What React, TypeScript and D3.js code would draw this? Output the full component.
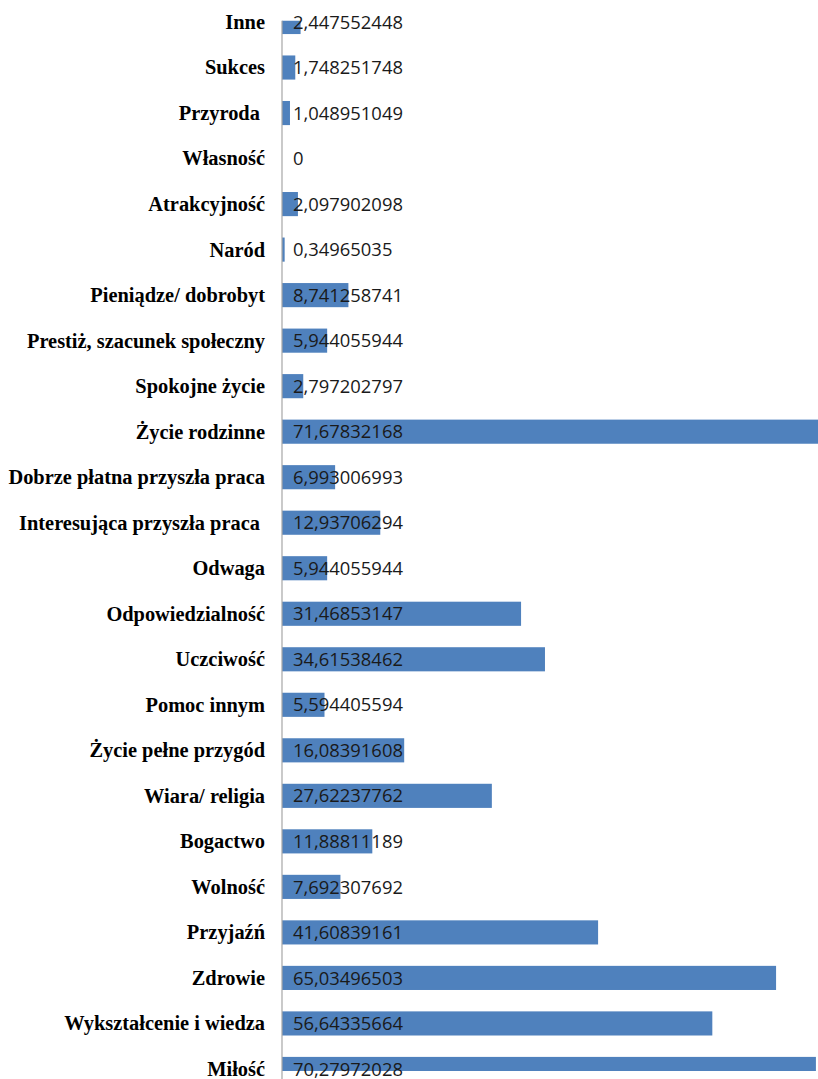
import { useEffect, useRef } from 'react';
import * as d3 from 'd3';

// categories from top to bottom, as shown in the picture
const categories = [
  'Inne',
  'Sukces',
  'Przyroda ',
  'Własność',
  'Atrakcyjność',
  'Naród',
  'Pieniądze/ dobrobyt',
  'Prestiż, szacunek społeczny',
  'Spokojne życie',
  'Życie rodzinne',
  'Dobrze płatna przyszła praca',
  'Interesująca przyszła praca ',
  'Odwaga',
  'Odpowiedzialność',
  'Uczciwość',
  'Pomoc innym',
  'Życie pełne przygód',
  'Wiara/ religia',
  'Bogactwo',
  'Wolność',
  'Przyjaźń',
  'Zdrowie',
  'Wykształcenie i wiedza',
  'Miłość',
];

const values = [
  2.447552448, 1.748251748, 1.048951049, 0, 2.097902098, 0.34965035,
  8.741258741, 5.944055944, 2.797202797, 71.67832168, 6.993006993,
  12.93706294, 5.944055944, 31.46853147, 34.61538462, 5.594405594,
  16.08391608, 27.62237762, 11.88811189, 7.692307692, 41.60839161,
  65.03496503, 56.64335664, 70.27972028,
];

const xDomain = [0, 80];

const fmt = (v: number) => String(v).replace('.', ',');

export default function App() {
  const ref = useRef<SVGSVGElement>(null);

  useEffect(() => {
    if (!ref.current) return;
    const svg = d3.select(ref.current);
    svg.selectAll('*').remove();

    const W = 818, H = 1079;
    const axisX = 282;
    const plotTop = 20.7, plotBottom = 1071;
    const step = 45.52;
    const firstC = 22;

    const x = d3.scaleLinear().domain(xDomain).range([axisX, axisX + 7.597 * 80]);
    const y = d3.scaleBand<string>()
      .domain(categories)
      .range([firstC - step / 2, firstC + step * (categories.length - 0.5)])
      .paddingInner(0.47).paddingOuter(0.235);

    svg.append('defs').append('clipPath').attr('id', 'plot-clip')
      .append('rect').attr('x', axisX).attr('y', plotTop)
      .attr('width', W - axisX).attr('height', plotBottom - plotTop);

    const data = categories.map((c, i) => ({ c, v: values[i] }));

    svg.append('g').attr('clip-path', 'url(#plot-clip)')
      .selectAll('rect').data(data).enter().append('rect')
      .attr('x', x(0))
      .attr('y', d => y(d.c)!)
      .attr('width', d => x(d.v) - x(0))
      .attr('height', y.bandwidth())
      .attr('fill', '#4f81bd');

    svg.append('line')
      .attr('x1', axisX).attr('x2', axisX).attr('y1', plotTop).attr('y2', H)
      .attr('stroke', '#a6a6a6').attr('stroke-width', 1.2);

    svg.append('g').selectAll('text').data(data).enter().append('text')
      .attr('x', axisX - 17)
      .attr('y', d => y(d.c)! + y.bandwidth() / 2)
      .attr('dy', '0.34em')
      .attr('text-anchor', 'end')
      .attr('font-family', '"Liberation Serif", "Times New Roman", serif')
      .attr('font-weight', 'bold')
      .attr('font-size', '20.4px')
      .attr('fill', '#000')
      .style('white-space', 'pre')
      .text(d => d.c);

    svg.append('g').selectAll('text').data(data).enter().append('text')
      .attr('x', x(0) + 11)
      .attr('y', d => y(d.c)! + y.bandwidth() / 2)
      .attr('dy', '0.36em')
      .attr('font-family', '"Open Sans", sans-serif')
      .attr('font-size', '18.4px')
      .attr('fill', '#1a1a1a')
      .text(d => fmt(d.v));
  }, []);

  return (
    <svg ref={ref} width={818} height={1079}
      style={{ position: 'absolute', left: 0, top: 0, background: '#fff' }} />
  );
}
